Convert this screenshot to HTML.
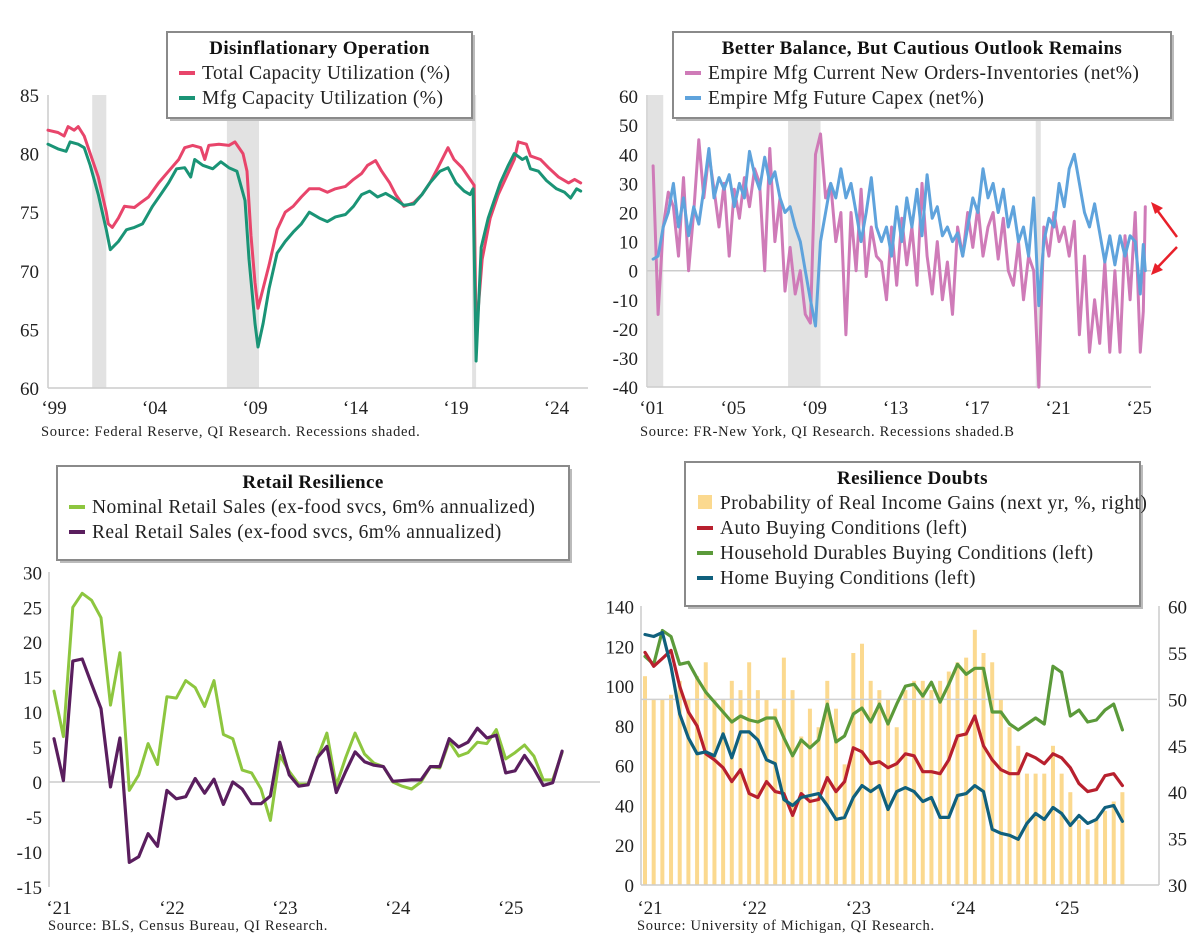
<!DOCTYPE html>
<html><head><meta charset="utf-8"><style>
body{margin:0;background:#fff}
svg{display:block;font-family:"Liberation Serif",serif}
.tk{font-size:19px;fill:#222}
.src{font-size:14.5px;fill:#222;letter-spacing:0.7px}
.lg{font-size:19.5px;fill:#222;letter-spacing:0.4px}
.ttl{font-size:19px;font-weight:bold;fill:#111;letter-spacing:0.4px}
</style></head><body>
<svg id="c" width="1200" height="947" viewBox="0 0 1200 947" xmlns="http://www.w3.org/2000/svg"></svg>
<script>
// ---------- Panel 1 data ----------
const p1Years=[1999.0,1999.5,1999.8,2000.0,2000.3,2000.5,2000.8,2001.0,2001.5,2001.9,2002.0,2002.2,2002.5,2002.8,2003.3,2003.6,2004.0,2004.5,2005.0,2005.5,2005.8,2006.2,2006.6,2006.8,2007.0,2007.5,2008.0,2008.3,2008.7,2008.9,2009.1,2009.3,2009.45,2009.7,2010.0,2010.4,2010.8,2011.2,2011.6,2012.0,2012.5,2012.9,2013.3,2013.8,2014.2,2014.6,2014.9,2015.3,2015.6,2016.0,2016.3,2016.7,2017.2,2017.6,2018.0,2018.4,2018.9,2019.2,2019.6,2020.0,2020.2,2020.3,2020.6,2021.0,2021.4,2021.8,2022.2,2022.4,2022.8,2023.0,2023.5,2023.9,2024.4,2024.9,2025.2,2025.5];
const p1Total=[82,81.8,81.5,82.3,82,82.3,81.5,80.5,78,75,74,73.7,74.5,75.5,75.4,75.8,76.3,77.5,78.5,79.5,80.5,80.7,80.5,79.5,80.7,80.8,80.7,81,80,78.5,73,69,66.8,68.5,70.5,73.5,75,75.5,76.3,77,77,76.7,77,77.2,77.8,78.3,79,79.4,78.5,77.5,76.5,75.5,75.8,76.5,77.5,78.8,80.5,79.5,78.8,77.8,77.3,64.5,71,74.5,76.5,78,79.5,81,80.8,79.8,79.5,78.8,78,77.5,77.8,77.5];
const p1MfgYears=[1999.0,1999.5,1999.9,2000.1,2000.5,2000.8,2001.1,2001.5,2001.9,2002.1,2002.5,2002.9,2003.3,2003.7,2004.2,2004.6,2005.0,2005.4,2005.8,2006.1,2006.3,2006.7,2007.2,2007.6,2008.0,2008.4,2008.8,2009.0,2009.3,2009.45,2009.7,2010.0,2010.4,2010.8,2011.2,2011.6,2012.0,2012.5,2012.9,2013.3,2013.8,2014.2,2014.6,2015.0,2015.4,2015.8,2016.2,2016.7,2017.2,2017.6,2018.0,2018.5,2018.9,2019.3,2019.7,2020.0,2020.15,2020.3,2020.55,2020.9,2021.2,2021.5,2021.9,2022.2,2022.6,2022.8,2023.0,2023.4,2023.8,2024.3,2024.7,2025.0,2025.3,2025.5];
const p1Mfg=[80.8,80.4,80.2,81,80.8,80.5,79,76.5,73.5,71.8,72.5,73.5,73.7,74,75.5,76.5,77.5,78.7,78.8,78,79.5,79,78.7,79.3,78.8,78.5,76,71,65.5,63.5,65.5,68.5,71.5,72.5,73.3,74,75,74.5,74.2,74.6,74.8,75.5,76.5,76.8,76.3,76.6,76.2,75.6,75.7,76.5,77.5,78.5,78.8,77.5,76.8,76.5,77,62.3,72,74.5,76,77.5,79,80,79.5,79.7,78.7,78.5,77.7,77,76.7,76.2,77,76.8];
const p1Ticks=[60,65,70,75,80,85];
const p1XLabels=["‘99","‘04","‘09","‘14","‘19","‘24"];
const p1XLabelYears=[1999,2004,2009,2014,2019,2024];
const p1Recess=[[2001.2,2001.9],[2007.9,2009.5],[2020.1,2020.3]];

// ---------- Panel 2 data ----------
const p2Years=[2001.25,2001.5,2001.75,2002,2002.25,2002.5,2002.75,2003,2003.25,2003.5,2003.75,2004,2004.25,2004.5,2004.75,2005,2005.25,2005.5,2005.75,2006,2006.25,2006.5,2006.75,2007,2007.25,2007.5,2007.75,2008,2008.25,2008.5,2008.75,2009,2009.25,2009.5,2009.75,2010,2010.25,2010.5,2010.75,2011,2011.25,2011.5,2011.75,2012,2012.25,2012.5,2012.75,2013,2013.25,2013.5,2013.75,2014,2014.25,2014.5,2014.75,2015,2015.25,2015.5,2015.75,2016,2016.25,2016.5,2016.75,2017,2017.25,2017.5,2017.75,2018,2018.25,2018.5,2018.75,2019,2019.25,2019.5,2019.75,2020,2020.25,2020.5,2020.75,2021,2021.25,2021.5,2021.75,2022,2022.25,2022.5,2022.75,2023,2023.25,2023.5,2023.75,2024,2024.25,2024.5,2024.75,2025,2025.25,2025.4,2025.5];
const p2Orders=[36,-15,15,27,22,5,32,0,20,45,25,40,28,15,30,5,28,18,32,22,35,30,0,42,10,25,-7,8,-8,0,-15,-18,40,47,25,30,10,20,-22,20,0,28,-2,15,5,3,-10,15,-5,18,2,15,-5,30,5,-8,10,-10,3,-15,15,5,20,8,22,5,15,20,4,18,0,-5,10,-10,5,0,-40,15,5,20,10,15,5,17,-22,5,-28,-10,-25,3,-28,0,-28,12,-10,20,-28,-14,22];
const p2Capex=[4,5,15,20,30,15,25,12,22,16,28,42,25,32,28,33,22,30,25,41,33,28,39,30,34,25,20,22,15,10,0,-10,-19,10,20,30,25,35,25,30,20,10,20,32,15,10,15,5,22,10,25,15,28,12,33,18,22,12,15,10,13,5,15,25,20,35,25,30,20,28,15,22,10,15,5,25,-12,10,18,15,30,22,35,40,30,20,15,23,13,3,12,2,12,5,12,10,-8,9,0];
const p2Ticks=[-40,-30,-20,-10,0,10,20,30,40,50,60];
const p2XLabels=["‘01","‘05","‘09","‘13","‘17","‘21","‘25"];
const p2XLabelYears=[2001,2005,2009,2013,2017,2021,2025];
const p2Recess=[[2001.0,2001.75],[2007.9,2009.5],[2020.1,2020.35]];

// ---------- Panel 3 data (monthly from Jan 2021) ----------
const p3Nominal=[13,6.5,25,27,26,23.5,11,18.5,-1.2,1,5.5,2.5,12.2,12,14.5,13.5,10.8,14.5,6.8,6.2,1.7,1.3,-1,-5.5,3.8,1.5,-0.3,-0.3,3.5,7,-0.5,3.5,7,4,2.7,2.2,0,-0.6,-1,0,2.2,2,5.8,3.7,4.2,5.7,5.5,7.5,3.3,4.2,5.3,3.7,0.3,0.3,4.2];
const p3Real=[6.2,0.2,17.3,17.6,14,10.5,-0.7,6.3,-11.5,-10.7,-7.4,-9.2,-1.2,-2.4,-2.1,0.5,-1.6,0.4,-3.2,0,-1,-3.1,-3.1,-2,5.7,1,-0.6,-0.4,3.5,5.1,-1.5,1.5,4.3,2.9,2.4,2.2,0.1,0.2,0.3,0.3,2.2,2.2,6.2,5,5.7,7.7,6.3,6.7,1.3,1.6,3.8,1.9,-0.5,-0.1,4.4];
const p3Ticks=[-15,-10,-5,0,5,10,15,20,25,30];
const p3XLabels=["‘21","‘22","‘23","‘24","‘25"];

// ---------- Panel 4 data (monthly from Jan 2021) ----------
const p4Income=[52.5,50,50,50.5,52,50,52.5,54,50,50,52,51,54,51,50,49,54.5,51,46,49,47,52,49,43,55,56,52,51,50,47,51,52,52,51,52,53,54,54.5,57.5,55,54,50,47,45,42,42,42,45,42,40,37,36,37,38,39,40];
const p4Auto=[117,110,114,118,100,87,80,66,63,59,52,58,46,44,52,47,46,35,46,42,43,54,47,52,69,67,61,62,59,61,66,65,57,57,56,63,75,76,85,70,63,58,56,56,66,64,61,66,64,59,51,47,48,55,56,50];
const p4Durables=[115,111,128,125,111,112,104,97,92,87,82,85,83,82,84,84,74,65,73,69,73,91,72,75,86,89,82,91,81,91,100,101,95,102,92,101,111,106,109,109,87,87,81,78,81,84,81,110,107,85,88,82,83,88,91,78];
const p4Home=[126,125,127,110,86,74,66,67,65,76,64,77,77,73,63,61,43,40,44,45,46,40,33,34,44,50,47,50,38,47,49,47,42,44,34,34,45,46,50,47,28,26,25,23,31,36,33,39,36,30,35,31,33,39,40,32];
const p4LeftTicks=[0,20,40,60,80,100,120,140];
const p4RightTicks=[30,35,40,45,50,55,60];
const p4XLabels=["‘21","‘22","‘23","‘24","‘25"];

const svg=document.getElementById('c');
const NS='http://www.w3.org/2000/svg';
function mk(tag,attrs,parent){const e=document.createElementNS(NS,tag);for(const k in attrs)e.setAttribute(k,attrs[k]);(parent||svg).appendChild(e);return e;}
function txt(s,x,y,cls,anchor,parent){const e=mk('text',{x:x,y:y,class:cls,'text-anchor':anchor||'start'},parent);e.textContent=s;return e;}
function poly(xs,ys,color,w,parent){const d=xs.map((x,i)=>(i?'L':'M')+x.toFixed(1)+' '+ys[i].toFixed(1)).join(' ');return mk('path',{d:d,fill:'none',stroke:color,'stroke-width':w,'stroke-linejoin':'round','stroke-linecap':'round'},parent);}

// ===== Panel 1 =====
(function(){
  const g=mk('g',{});
  
  
  const x=v=>48+(v-1999)*20.1, y=v=>388-(v-60)*11.72;
  p1Recess.forEach(r=>{const e=mk('rect',{x:x(r[0]),y:95,width:x(r[1])-x(r[0]),height:293,fill:'#e2e2e2'},g);
    
    });
  mk('line',{x1:48,y1:95,x2:48,y2:388,stroke:'#ccc','stroke-width':1.5},g);
  mk('line',{x1:48,y1:388,x2:588,y2:388,stroke:'#ccc','stroke-width':1.5},g);
  p1Ticks.forEach(t=>txt(String(t),39,y(t)+7,'tk','end',g));
  p1XLabels.forEach((s,i)=>txt(s,x(p1XLabelYears[i])+6,414,'tk','middle',g));
  const l1=poly(p1Years.map(x),p1Total.map(y),'#e8456b',3,g);
  
  
  const l2=poly(p1MfgYears.map(x),p1Mfg.map(y),'#1a9476',3,g);
  
  
  txt('Source: Federal Reserve, QI Research. Recessions shaded.',41,436,'src','start',g);
})();

// ===== Panel 2 =====
(function(){
  const g=mk('g',{});
  
  
  const x=v=>648+(v-2001)*20.3, y=v=>270.7-v*2.91;
  p2Recess.forEach(r=>{const e=mk('rect',{x:x(r[0]),y:95,width:x(r[1])-x(r[0]),height:292,fill:'#e2e2e2'},g);
    
    });
  mk('line',{x1:647,y1:95,x2:647,y2:387,stroke:'#ccc','stroke-width':1.5},g);
  mk('line',{x1:647,y1:387,x2:1151,y2:387,stroke:'#ccc','stroke-width':1.5},g);
  mk('line',{x1:647,y1:y(0),x2:1151,y2:y(0),stroke:'#ccc','stroke-width':1.5},g);
  p2Ticks.forEach(t=>txt(String(t),638,y(t)+7,'tk','end',g));
  p2XLabels.forEach((s,i)=>txt(s,x(p2XLabelYears[i])+4,414,'tk','middle',g));
  const l1=poly(p2Years.map(x),p2Orders.map(y),'#cf7bb8',3,g);
  
  
  const l2=poly(p2Years.map(x),p2Capex.map(y),'#5fa3dc',3,g);
  
  
  const a=mk('g',{stroke:'#e8202a','stroke-width':2.5,fill:'#e8202a'},g);
  
  
  mk('line',{x1:1177,y1:237,x2:1157,y2:210},a);
  mk('polygon',{points:'1151,202 1163,208 1155,214',stroke:'none'},a);
  mk('line',{x1:1177,y1:247,x2:1157,y2:268},a);
  mk('polygon',{points:'1151,275 1155,263 1163,270',stroke:'none'},a);
  txt('Source: FR-New York, QI Research. Recessions shaded.B',640,436,'src','start',g);
})();

// ===== Panel 3 =====
(function(){
  const g=mk('g',{});
  
  
  const x=m=>54+m*9.41, y=v=>782-v*6.99;
  mk('line',{x1:49,y1:572,x2:49,y2:887,stroke:'#ccc','stroke-width':1.5},g);
  mk('line',{x1:49,y1:y(0),x2:600,y2:y(0),stroke:'#ccc','stroke-width':1.5},g);
  p3Ticks.forEach(t=>txt(String(t),42,y(t)+7,'tk','end',g));
  p3XLabels.forEach((s,i)=>txt(s,x(i*12)+5,914,'tk','middle',g));
  const l1=poly(p3Nominal.map((v,i)=>x(i)),p3Nominal.map(y),'#8dc63f',3,g);
  
  
  const l2=poly(p3Real.map((v,i)=>x(i)),p3Real.map(y),'#5a1e5e',3.2,g);
  
  
  txt('Source: BLS, Census Bureau, QI Research.',48,930,'src','start',g);
})();

// ===== Panel 4 =====
(function(){
  const g=mk('g',{});
  
  
  const x=m=>645+m*8.68, yL=v=>885-v*1.988, yR=v=>885-(v-30)*9.28;
  p4Income.forEach((v,i)=>{const b=mk('rect',{x:x(i)-2,y:yR(v),width:4,height:885-yR(v),fill:'#fbd98f'},g);
    
    });
  mk('line',{x1:641,y1:yR(50),x2:1157,y2:yR(50),stroke:'#d0d0d0','stroke-width':1.5},g);
  mk('line',{x1:641,y1:606,x2:641,y2:885,stroke:'#ccc','stroke-width':1.5},g);
  mk('line',{x1:1159,y1:606,x2:1159,y2:885,stroke:'#ccc','stroke-width':1.5},g);
  mk('line',{x1:641,y1:885,x2:1159,y2:885,stroke:'#ccc','stroke-width':1.5},g);
  p4LeftTicks.forEach(t=>txt(String(t),634,yL(t)+7,'tk','end',g));
  p4RightTicks.forEach(t=>txt(String(t),1168,yR(t)+7,'tk','start',g));
  p4XLabels.forEach((s,i)=>txt(s,x(i*12)+5,914,'tk','middle',g));
  const l1=poly(p4Durables.map((v,i)=>x(i)),p4Durables.map(yL),'#5b9a3a',3.2,g);
  
  
  const l2=poly(p4Auto.map((v,i)=>x(i)),p4Auto.map(yL),'#b8202e',3.2,g);
  
  
  const l3=poly(p4Home.map((v,i)=>x(i)),p4Home.map(yL),'#10607d',3.2,g);
  
  
  txt('Source: University of Michigan, QI Research.',637,930,'src','start',g);
})();

// ===== Legends =====
function legend(name,x0,y0,w,h,title,items){
  const g=mk('g',{});
  
  
  mk('rect',{x:x0+3,y:y0+3,width:w,height:h,fill:'#bbb'},g);
  mk('rect',{x:x0,y:y0,width:w,height:h,fill:'#fff',stroke:'#8a8a8a','stroke-width':2},g);
  txt(title,x0+w/2,y0+22,'ttl','middle',g);
  items.forEach((it,i)=>{
    const yy=y0+47+i*25;
    if(it.bar){mk('rect',{x:x0+13,y:yy-14,width:14,height:14,fill:it.c},g);}
    else mk('line',{x1:x0+12,y1:yy-6,x2:x0+28,y2:yy-6,stroke:it.c,'stroke-width':4},g);
    const t=txt(it.t,x0+35,yy,'lg','start',g);
    
    
  });
}
legend('legend-capacity',167,32,305,86,'Disinflationary Operation',[{t:'Total Capacity Utilization (%)',c:'#e8456b'},{t:'Mfg Capacity Utilization (%)',c:'#1a9476'}]);
legend('legend-empire',673,32,498,86,'Better Balance, But Cautious Outlook Remains',[{t:'Empire Mfg Current New Orders-Inventories (net%)',c:'#cf7bb8'},{t:'Empire Mfg Future Capex (net%)',c:'#5fa3dc'}]);
legend('legend-retail',57,466,512,94,'Retail Resilience',[{t:'Nominal Retail Sales (ex-food svcs, 6m% annualized)',c:'#8dc63f'},{t:'Real Retail Sales (ex-food svcs, 6m% annualized)',c:'#5a1e5e'}]);
legend('legend-michigan',685,462,455,144,'Resilience Doubts',[{t:'Probability of Real Income Gains (next yr, %, right)',c:'#fbd98f',bar:true},{t:'Auto Buying Conditions (left)',c:'#b8202e'},{t:'Household Durables Buying Conditions (left)',c:'#5b9a3a'},{t:'Home Buying Conditions (left)',c:'#10607d'}]);
</script>
</body></html>
